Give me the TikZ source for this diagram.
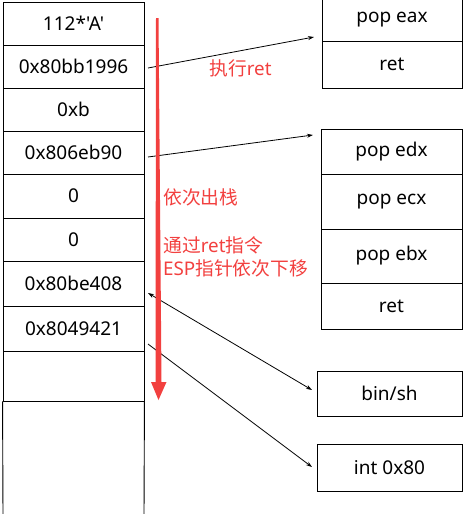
\documentclass[tikz,border=0pt]{standalone}
\usepackage{fontspec}
\setmainfont{Noto Sans}[Ligatures=TeXOff]
\newfontfamily\cjk{Noto Sans CJK SC}
\usetikzlibrary{arrows.meta}
\definecolor{espred}{HTML}{F2403F}

\tikzset{
  cell/.style={draw, line width=0.9, inner sep=0, minimum width=141,
    font=\fontsize{19}{22}\selectfont},
  note/.style={text=espred, anchor=west, inner sep=0,
    font=\fontsize{18.8}{23}\selectfont},
  link/.style={line width=0.8, -{Stealth[length=6pt,width=4pt]}},
}

\begin{document}
\begin{tikzpicture}[x=1pt,y=-1pt]
    \useasboundingbox (0,0) rectangle (464,514);

    % stack
    \node (s1) at (73.5,23.5) [cell, minimum height=43] {112*'A'};
    \node (s2) at (73.5,66.5) [cell, minimum height=43] {0x80bb1996};
    \node (s3) at (73.5,109.5) [cell, minimum height=43] {0xb};
    \node (s4) at (73.5,152.5) [cell, minimum height=43] {0x806eb90};
    \node (s5) at (73.5,196) [cell, minimum height=44] {0};
    \node (s6) at (73.5,239.5) [cell, minimum height=43] {0};
    \node (s7) at (73.5,283.5) [cell, minimum height=45] {0x80be408};
    \node (s8) at (73.5,328.5) [cell, minimum height=45] {0x8049421};
    \node (s9) at (73.5,376) [cell, minimum height=50] {};
    \coordinate (s10l) at (3,516);
    \coordinate (s10r) at (144,516);
    \draw[line width=0.9] (s9.south west) -- (s10l);
    \draw[line width=0.9] (s9.south east) -- (s10r);

    % gadgets
    \node (eax) at (392,19.5) [cell, minimum width=140, minimum height=43] {pop eax};
    \node (ret1) at (392,64.5) [cell, minimum width=140, minimum height=47] {ret};

    \node (edx) at (391.5,151.5) [cell, minimum height=45] {pop edx};
    \node (ecx) at (391.5,201.5) [cell, minimum height=55] {pop ecx};
    \node (ebx) at (391.5,256) [cell, minimum height=54] {pop ebx};
    \node (ret2) at (391.5,306) [cell, minimum height=46] {ret};

    \node (binsh) at (389.5,393.5) [cell, minimum width=145, minimum height=45] {bin/sh};
    \node (int80) at (389.5,467.5) [cell, minimum width=145, minimum height=47] {int 0x80};

    % links
    \coordinate (a1) at (148,68);
    \coordinate (b1) at (314,37);
    \coordinate (a2) at (148,157);
    \coordinate (b2) at (313,135);
    \coordinate (a3) at (148,293);
    \coordinate (b3) at (312,390);
    \coordinate (a4) at (148,344);
    \coordinate (b4) at (312,467);
    \draw[link] (a1) -- (b1);
    \draw[link] (a2) -- (b2);
    \draw[link, {Stealth[length=6pt,width=4pt]}-{Stealth[length=6pt,width=4pt]}] (a3) -- (b3);
    \draw[link] (a4) -- (b4);

    % esp arrow
    \fill[espred] (156,18) -- (158.5,18) -- (161.5,382) -- (166.5,382)
        -- (158.5,400) -- (151,382) -- (155.5,382) -- cycle;

    \node (t1) at (209,68) [note] {{\cjk 执行}ret};
    \node (t2) at (163,197) [note] {\cjk 依次出栈};
    \node (t3) at (163,256.5) [note, align=left] {{\cjk 通过}ret{\cjk 指令}\\ESP{\cjk 指针依次下移}};
\end{tikzpicture}
\end{document}
